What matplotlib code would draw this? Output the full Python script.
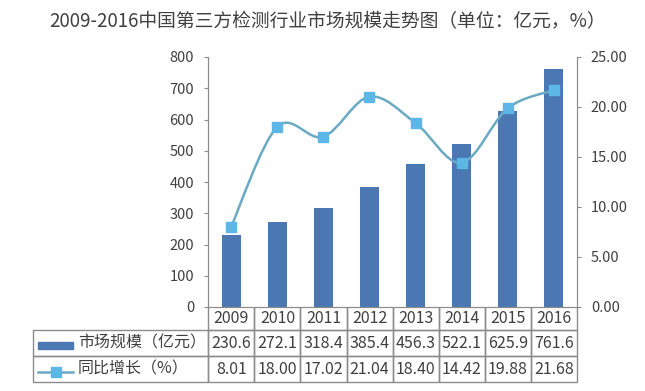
import numpy as np
import matplotlib
matplotlib.use('Agg')
import matplotlib.pyplot as plt
from matplotlib.path import Path
from matplotlib.patches import PathPatch, Rectangle
from matplotlib.lines import Line2D
from matplotlib.table import Table

plt.rcParams['font.family'] = ['Noto Sans CJK SC', 'DejaVu Sans']

# data
years = ['2009', '2010', '2011', '2012', '2013', '2014', '2015', '2016']
market = [230.6, 272.1, 318.4, 385.4, 456.3, 522.1, 625.9, 761.6]
growth = [8.01, 18.00, 17.02, 21.04, 18.40, 14.42, 19.88, 21.68]
row_labels = ['市场规模（亿元）', '同比增长（%）']
title = '2009-2016中国第三方检测行业市场规模走势图（单位：亿元，%）'

bar_color = '#4b78b3'
line_color = '#6aaac2'
marker_color = '#5cb6e6'
grey = '#8c8c8c'
text_color = '#404040'

W, H = 645, 391
fig = plt.figure(figsize=(W / 100, H / 100), dpi=100)
# axes box in pixels: left 208, right 577, top 57, bottom 307
ax = fig.add_axes([208 / W, 1 - 307 / H, 369 / W, 250 / H])
x = np.arange(len(years))

ax.bar(x, market, width=0.41, color=bar_color, zorder=2)
ax.set_xlim(-0.5, len(years) - 0.5)
ax.set_ylim(0, 800)
ax.set_yticks(range(0, 801, 100))
ax.set_xticks([])

ax2 = ax.twinx()
ax2.set_ylim(0, 25)
ax2.set_yticks(np.arange(0, 26, 5))
ax2.set_yticklabels([f'{v:.2f}' for v in np.arange(0, 26, 5)])

# smoothed line (bezier through the points, like Excel's smooth line)
pts = np.column_stack([x, growth]).astype(float)
n = len(pts)
verts = [pts[0]]
codes = [Path.MOVETO]
for i in range(n - 1):
    p0 = pts[max(i - 1, 0)]
    p1 = pts[i]
    p2 = pts[i + 1]
    p3 = pts[min(i + 2, n - 1)]
    verts += [p1 + (p2 - p0) / 6, p2 - (p3 - p1) / 6, p2]
    codes += [Path.CURVE4] * 3
ax2.add_patch(PathPatch(Path(verts, codes), fill=False, edgecolor=line_color, lw=1.8, zorder=3))
ax2.plot(x, growth, ls='none', marker='s', ms=7, color=marker_color, zorder=4)

for a in (ax, ax2):
    a.spines['top'].set_visible(False)
    for s in ('left', 'right', 'bottom'):
        a.spines[s].set_color(grey)
    a.tick_params(axis='y', length=3, color=grey, labelsize=10.5,
                  labelcolor=text_color, pad=7)

# data table under the axes
tbl = Table(ax, bbox=[-175 / 369, -75 / 250, 544 / 369, 75 / 250])
lw_col, cw = 175, 46
for j, y in enumerate(years):
    c = tbl.add_cell(0, j + 1, width=cw, height=23, text=y, loc='center',
                     edgecolor=grey, facecolor='none')
    c.visible_edges = 'BLR'
rows = [[f'{v:.1f}' for v in market], [f'{v:.2f}' for v in growth]]
for i, (lab, vals) in enumerate(zip(row_labels, rows)):
    c = tbl.add_cell(i + 1, 0, width=lw_col, height=26, text=lab, loc='left',
                     edgecolor=grey, facecolor='none')
    c.PAD = 45 / lw_col
    for j, v in enumerate(vals):
        tbl.add_cell(i + 1, j + 1, width=cw, height=26, text=v, loc='center',
                     edgecolor=grey, facecolor='none')
tbl.auto_set_font_size(False)
tbl.set_fontsize(11.5)
for cell in tbl.get_celld().values():
    cell.get_text().set_color(text_color)
    cell.set_linewidth(1)
ax.add_table(tbl)

# legend keys in the table's label column
def axx(px):
    return (px - 208) / 369

def axy(py):
    return (307 - py) / 250

ax.add_patch(Rectangle((axx(38), axy(349)), axx(73) - axx(38), axy(342) - axy(349),
                       transform=ax.transAxes, clip_on=False, color=bar_color, zorder=20))
ax.add_line(Line2D([axx(38), axx(56), axx(73)], [axy(372)] * 3, transform=ax.transAxes,
                   clip_on=False, color=line_color, lw=1.8, marker='s', ms=7,
                   markevery=[1], mfc=marker_color, mec=marker_color, zorder=20))

fig.text(0.508, 1 - 22 / H, title, ha='center', va='center', fontsize=13.5, color=text_color)

fig.savefig('out.png', dpi=100)
